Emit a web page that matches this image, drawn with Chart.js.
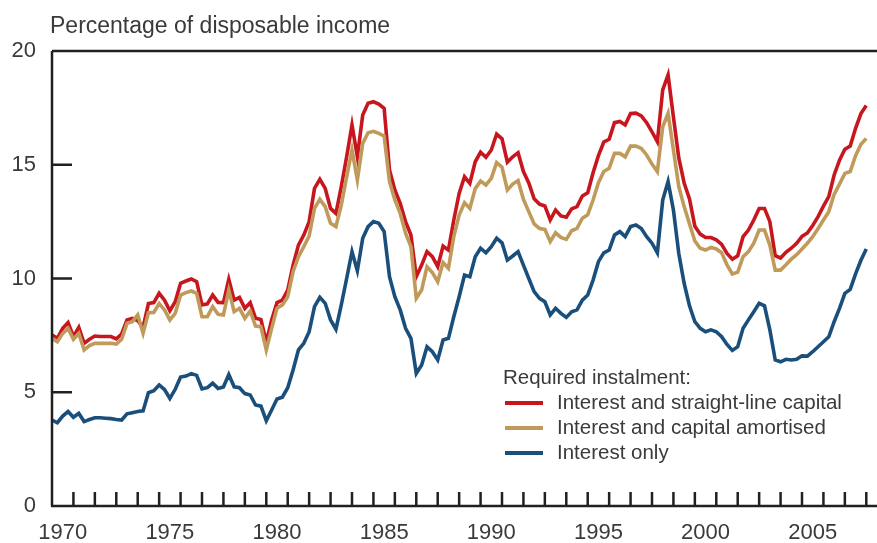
<!DOCTYPE html>
<html>
<head>
<meta charset="utf-8">
<script src="https://cdn.jsdelivr.net/npm/chart.js@4.4.0/dist/chart.umd.min.js"></script>
<style>
  body { margin: 0; background: #fff; }
  #wrap { width: 877px; height: 543px; position: relative; }
</style>
</head>
<body>
<div id="wrap"><canvas id="chart"></canvas></div>
<script>
// quarterly series, 1970 Q1 to 2008 Q1
const firstYear = 1970;
const straightLine = [7.52,7.37,7.81,8.06,7.44,7.85,7.15,7.33,7.47,7.45,
  7.45,7.45,7.35,7.56,8.18,8.25,8.15,7.85,8.9,8.94,
  9.35,9.05,8.58,8.98,9.79,9.89,9.98,9.86,8.84,8.88,
  9.27,8.95,8.94,9.96,9.05,9.17,8.69,8.94,8.25,8.2,
  7.2,8.18,8.94,9.05,9.49,10.59,11.47,11.91,12.5,13.96,
  14.36,13.96,13.08,12.86,14.04,15.35,16.75,15.35,17.19,17.7,
  17.77,17.67,17.48,14.77,13.89,13.3,12.5,11.91,10.08,10.59,
  11.18,10.96,10.52,11.43,11.25,12.57,13.74,14.47,14.18,15.13,
  15.55,15.33,15.65,16.35,16.14,15.11,15.35,15.53,14.7,14.2,
  13.5,13.27,13.19,12.57,13.01,12.75,12.69,13.06,13.16,13.63,
  13.77,14.65,15.4,16.0,16.12,16.85,16.9,16.75,17.25,17.27,
  17.15,16.85,16.45,16.01,18.29,18.95,17.1,15.3,14.2,13.5,
  12.3,11.95,11.8,11.8,11.7,11.5,11.1,10.85,11.0,11.84,
  12.13,12.57,13.08,13.08,12.5,11.0,10.9,11.15,11.33,11.55,
  11.85,12.0,12.33,12.72,13.18,13.6,14.55,15.2,15.68,15.82,
  16.6,17.25,17.6];
const amortised = [7.37,7.22,7.59,7.81,7.33,7.59,6.86,7.05,7.15,7.15,
  7.15,7.15,7.12,7.33,8.03,8.1,8.4,7.59,8.5,8.51,
  8.9,8.62,8.18,8.47,9.27,9.38,9.45,9.35,8.32,8.32,
  8.76,8.43,8.4,9.49,8.54,8.69,8.25,8.57,7.91,7.88,
  6.86,7.81,8.69,8.84,9.2,10.3,10.96,11.4,11.87,13.08,
  13.48,13.16,12.43,12.28,13.23,14.47,15.65,14.33,15.94,16.41,
  16.47,16.38,16.26,14.26,13.45,12.86,11.99,11.4,9.13,9.49,
  10.52,10.26,9.86,10.7,10.45,11.84,12.79,13.33,13.08,13.95,
  14.28,14.11,14.4,15.09,14.89,13.89,14.15,14.3,13.48,12.94,
  12.4,12.2,12.16,11.62,12.01,11.81,11.72,12.1,12.2,12.65,
  12.8,13.45,14.21,14.7,14.84,15.5,15.5,15.35,15.82,15.82,
  15.72,15.43,15.03,14.7,16.67,17.26,15.65,14.04,13.16,12.4,
  11.65,11.33,11.25,11.37,11.3,11.13,10.6,10.2,10.28,10.96,
  11.18,11.55,12.13,12.13,11.47,10.37,10.37,10.6,10.85,11.05,
  11.3,11.55,11.84,12.2,12.57,12.94,13.7,14.15,14.62,14.7,
  15.4,15.9,16.15];
const interestOnly = [3.78,3.66,3.95,4.15,3.9,4.07,3.71,3.8,3.88,3.88,
  3.86,3.84,3.8,3.78,4.05,4.1,4.15,4.18,4.98,5.07,
  5.32,5.12,4.73,5.13,5.67,5.71,5.82,5.74,5.15,5.2,
  5.4,5.17,5.23,5.78,5.24,5.2,4.94,4.88,4.44,4.39,
  3.75,4.22,4.7,4.78,5.2,5.98,6.86,7.15,7.66,8.76,
  9.17,8.91,8.18,7.77,8.84,10.0,11.18,10.34,11.77,12.28,
  12.5,12.43,12.06,10.08,9.2,8.62,7.81,7.37,5.83,6.2,
  7.0,6.78,6.42,7.3,7.37,8.32,9.2,10.15,10.08,10.96,
  11.33,11.13,11.4,11.77,11.57,10.81,10.99,11.18,10.59,10.0,
  9.42,9.13,8.98,8.4,8.69,8.47,8.29,8.54,8.62,9.05,
  9.27,9.93,10.74,11.13,11.25,11.91,12.06,11.84,12.28,12.35,
  12.2,11.84,11.55,11.13,13.45,14.26,13.01,11.1,9.79,8.8,
  8.1,7.81,7.66,7.74,7.66,7.44,7.1,6.84,7.0,7.81,
  8.18,8.54,8.91,8.8,7.74,6.42,6.34,6.45,6.42,6.45,
  6.6,6.59,6.78,7.0,7.22,7.44,8.1,8.69,9.35,9.52,
  10.2,10.8,11.3];

const yTicks = [0, 5, 10, 15, 20];
const xLabelYears = [1970, 1975, 1980, 1985, 1990, 1995, 2000, 2005];
const seriesNames = ['Interest and straight-line capital', 'Interest and capital amortised', 'Interest only'];
const seriesColors = ['#c8161e', '#bf9a5a', '#1a4f7c'];
const titleText = 'Percentage of disposable income';
const legendTitle = 'Required instalment:';

const FONT = '"Liberation Sans", Arial, Helvetica, sans-serif';
const INK = '#3a3a3a';

function toPoints(arr) {
  return arr.map((v, i) => ({ x: firstYear + i / 4, y: v }));
}

// axes frame, inward tick marks, title and legend
const framePlugin = {
  id: 'frame',
  afterDraw(chart) {
    const ctx = chart.ctx;
    const a = chart.chartArea;
    const xs = chart.scales.x, ys = chart.scales.y;
    ctx.save();
    ctx.strokeStyle = '#231f20';
    ctx.lineWidth = 2.5;
    ctx.beginPath();
    ctx.moveTo(a.left, a.top); ctx.lineTo(a.right, a.top);
    ctx.moveTo(a.left, a.top); ctx.lineTo(a.left, a.bottom);
    ctx.moveTo(a.left - 1, a.bottom); ctx.lineTo(a.right, a.bottom);
    ctx.stroke();
    ctx.beginPath();
    for (let yr = firstYear + 1; yr <= 2008; yr++) {
      const px = xs.getPixelForValue(yr);
      ctx.moveTo(px, a.bottom); ctx.lineTo(px, a.bottom - 14);
    }
    yTicks.slice(1, -1).forEach(v => {
      const py = ys.getPixelForValue(v);
      ctx.moveTo(a.left, py); ctx.lineTo(a.left + 20, py);
    });
    ctx.stroke();

    ctx.fillStyle = INK;
    ctx.font = '23px ' + FONT;
    ctx.textBaseline = 'middle';
    ctx.textAlign = 'left';
    ctx.fillText(titleText, 50, 27);

    ctx.font = '20.5px ' + FONT;
    ctx.fillText(legendTitle, 503, 378);
    seriesNames.forEach((name, i) => {
      const y = 403 + i * 25;
      ctx.strokeStyle = seriesColors[i];
      ctx.lineWidth = 4;
      ctx.beginPath();
      ctx.moveTo(505, y); ctx.lineTo(543, y);
      ctx.stroke();
      ctx.fillText(name, 557, y);
    });
    ctx.restore();
  }
};

new Chart(document.getElementById('chart'), {
  type: 'line',
  data: {
    datasets: [
      { label: seriesNames[2], data: toPoints(interestOnly), borderColor: seriesColors[2] },
      { label: seriesNames[1], data: toPoints(amortised), borderColor: seriesColors[1] },
      { label: seriesNames[0], data: toPoints(straightLine), borderColor: seriesColors[0] }
    ]
  },
  options: {
    responsive: true,
    maintainAspectRatio: false,
    animation: false,
    layout: { padding: { top: 51, right: 0, left: 0, bottom: 0 } },
    elements: {
      line: { borderWidth: 3.6, tension: 0, fill: false },
      point: { radius: 0 }
    },
    plugins: { legend: { display: false }, tooltip: { enabled: false } },
    scales: {
      x: {
        type: 'linear',
        min: 1970,
        max: 2008.5,
        grid: { display: false, drawTicks: false },
        border: { display: false },
        afterFit(scale) { scale.height = 37; },
        afterBuildTicks(scale) { scale.ticks = xLabelYears.map(y => ({ value: y + 0.5 })); },
        ticks: {
          autoSkip: false, maxRotation: 0, padding: 14,
          color: INK, font: { family: FONT, size: 22 },
          callback: v => String(Math.floor(v))
        }
      },
      y: {
        min: 0,
        max: 20,
        grid: { display: false, drawTicks: false },
        border: { display: false },
        afterFit(scale) { scale.width = 52; },
        afterBuildTicks(scale) { scale.ticks = yTicks.map(v => ({ value: v })); },
        ticks: { padding: 16, color: INK, font: { family: FONT, size: 22 } }
      }
    }
  },
  plugins: [framePlugin]
});
</script>
</body>
</html>
